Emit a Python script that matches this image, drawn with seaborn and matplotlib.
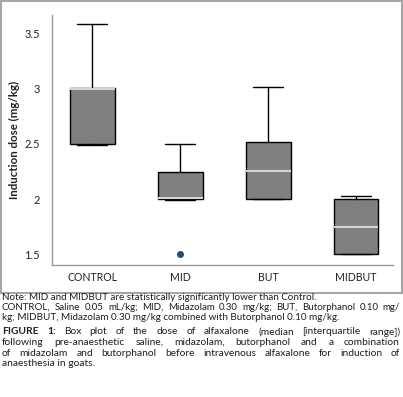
import matplotlib
matplotlib.use("Agg")
import matplotlib.pyplot as plt
import seaborn as sns
from matplotlib.patches import Rectangle

# ====== DATA ======
groups = ["CONTROL", "MID", "BUT", "MIDBUT"]
whisk_lo = [2.49, 1.99, 2.0, 1.5]
q1 = [2.5, 2.0, 2.0, 1.5]
median = [2.995, 2.01, 2.25, 1.75]
q3 = [3.0, 2.24, 2.52, 2.0]
whisk_hi = [3.58, 2.5, 3.01, 2.03]
outliers = [[], [1.5], [], []]
yticks = [1.5, 2, 2.5, 3, 3.5]
ytick_labels = ["1.5", "2", "2.5", "3", "3.5"]

note_1 = "Note: MID and MIDBUT are statistically significantly lower than Control."
note_2 = "CONTROL, Saline 0.05 mL/kg; MID, Midazolam 0.30 mg/kg; BUT, Butorphanol 0.10 mg/"
note_3 = "kg; MIDBUT, Midazolam 0.30 mg/kg combined with Butorphanol 0.10 mg/kg."
caption = [
    "FIGURE 1: Box plot of the dose of alfaxalone (median [interquartile range])",
    "following pre-anaesthetic saline, midazolam, butorphanol and a combination",
    "of midazolam and butorphanol before intravenous alfaxalone for induction of",
    "anaesthesia in goats.",
]

# ====== STYLE ======
sns.set_style("white")
plt.rcParams["font.family"] = ["Lato", "DejaVu Sans"]

W, H = 403, 397
fig = plt.figure(figsize=(W / 100, H / 100), dpi=100)
ax = fig.add_axes([51.7 / W, 1 - 265 / H, (393 - 51.7) / W, (265 - 15) / H])

stats = []
for i, g in enumerate(groups):
    stats.append(dict(label=g, whislo=whisk_lo[i], q1=q1[i], med=median[i],
                      q3=q3[i], whishi=whisk_hi[i], fliers=outliers[i]))

ax.bxp(stats, positions=range(len(groups)), widths=0.51, capwidths=0.34,
       patch_artist=True,
       boxprops=dict(facecolor="#808080", edgecolor="black", linewidth=1),
       medianprops=dict(color="#d4d4d4", linewidth=1.5),
       whiskerprops=dict(color="black", linewidth=1),
       capprops=dict(color="black", linewidth=1),
       flierprops=dict(marker="o", markerfacecolor="#1f4e79",
                       markeredgecolor="#1f4e79", markersize=4))

ax.set_xlim(-0.46, 3.42)
ax.set_ylim(1.403, 3.665)
ax.set_yticks(yticks)
ax.set_yticklabels(ytick_labels)
ax.tick_params(axis="y", length=3, width=0.8, color="#808080", pad=5.5,
               labelsize=8, labelcolor="#222222")
ax.tick_params(axis="x", length=0, pad=5, labelsize=7.6, labelcolor="#222222")
ax.set_ylabel("Induction dose (mg/kg)", fontsize=8.3, fontweight="bold",
              color="#222222", labelpad=3)
sns.despine(ax=ax)
for s in ["left", "bottom"]:
    ax.spines[s].set_color("#9a9a9a")
    ax.spines[s].set_linewidth(1)

# frame around chart
fig.patches.append(Rectangle((0.5 / W, 1 - 293 / H), 401 / W, 292 / H,
                             transform=fig.transFigure, fill=False,
                             edgecolor="#a6a6a6", linewidth=1.5))

# ====== TEXT BELOW ======
renderer = fig.canvas.get_renderer()


def put_line(text, y, size, justify=False, bold_words=0, x0=2, x1=400):
    if not justify and bold_words == 0:
        fig.text(x0 / W, 1 - y / H, text, fontsize=size, va="center",
                 color="#1e1e1e")
        return
    words = text.split(" ")
    arts = []
    for k, w in enumerate(words):
        t = fig.text(x0 / W, 1 - y / H, w, fontsize=size, va="center",
                     color="#1e1e1e",
                     fontweight="bold" if k < bold_words else "normal")
        arts.append(t)
    widths = [a.get_window_extent(renderer).width for a in arts]
    gap = (x1 - x0 - sum(widths)) / (len(words) - 1)
    x = x0
    for a, w in zip(arts, widths):
        a.set_x(x / W)
        x += w + gap


put_line(note_1, 297.5, 7.15)
put_line(note_2, 307.5, 7.0, justify=True)
put_line(note_3, 317.5, 7.1)
put_line(caption[0], 332, 7.4, justify=True, bold_words=2)
put_line(caption[1], 342.5, 7.4, justify=True)
put_line(caption[2], 353, 7.4, justify=True)
put_line(caption[3], 363.5, 7.4)

fig.savefig("out.png", dpi=100)
